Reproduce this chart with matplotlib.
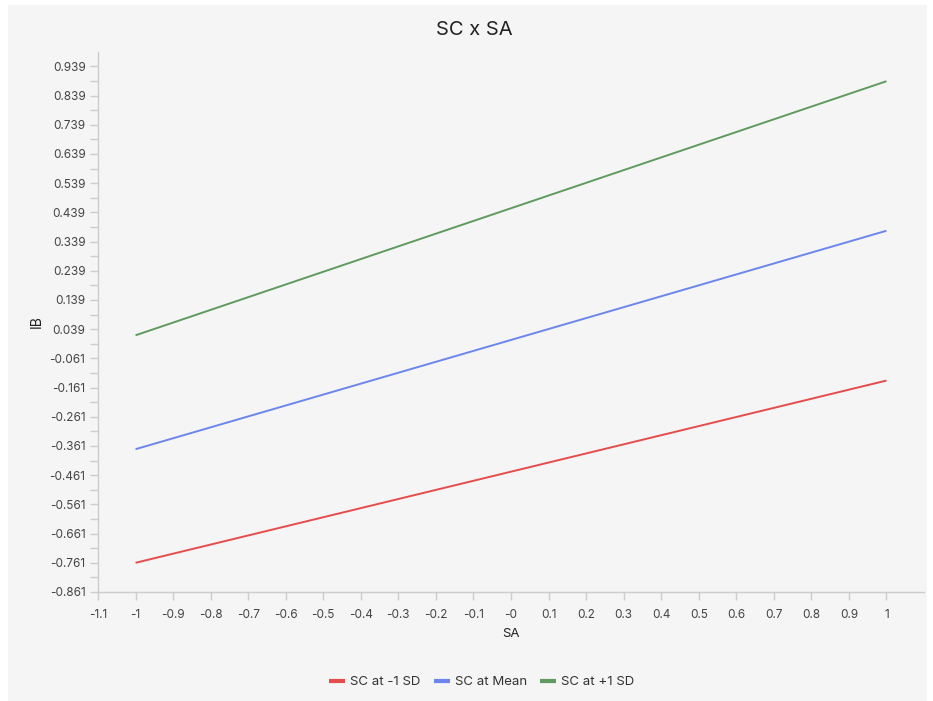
import matplotlib.pyplot as plt
import matplotlib.patches as mpatches
from matplotlib.ticker import MultipleLocator

plt.rcParams['font.family'] = ['Inter', 'DejaVu Sans']

# data
sa = [-1, 1]
low_sd = [-0.761, -0.137]
mean_sc = [-0.372, 0.376]
high_sd = [0.018, 0.888]
series_names = ["SC at -1 SD", "SC at Mean", "SC at +1 SD"]
series_colors = ["#e74c4c", "#6b86ee", "#5f9a5f"]

x_ticks = [-1.1, -1.0, -0.9, -0.8, -0.7, -0.6, -0.5, -0.4, -0.3, -0.2, -0.1,
           0.0, 0.1, 0.2, 0.3, 0.4, 0.5, 0.6, 0.7, 0.8, 0.9, 1.0]
x_labels = ["-1.1", "-1", "-0.9", "-0.8", "-0.7", "-0.6", "-0.5", "-0.4", "-0.3",
            "-0.2", "-0.1", "-0", "0.1", "0.2", "0.3", "0.4", "0.5", "0.6",
            "0.7", "0.8", "0.9", "1"]
y_ticks = [-0.861, -0.761, -0.661, -0.561, -0.461, -0.361, -0.261, -0.161,
           -0.061, 0.039, 0.139, 0.239, 0.339, 0.439, 0.539, 0.639, 0.739,
           0.839, 0.939]
y_labels = [f"{v:.3f}" for v in y_ticks]

W, H = 933, 701
fig = plt.figure(figsize=(W / 100, H / 100), dpi=100, facecolor="white")
bg = mpatches.Rectangle((8 / W, 0), 919 / W, 696 / H, transform=fig.transFigure,
                        facecolor="#f5f5f5", edgecolor="none", zorder=-10)
fig.add_artist(bg)

ax = fig.add_axes([98 / W, (H - 592) / H, (924 - 98) / W, (592 - 52) / H])
ax.set_facecolor("#f5f5f5")

for ys, name, c in zip([low_sd, mean_sc, high_sd], series_names, series_colors):
    ax.plot(sa, ys, color=c, linewidth=1.4, label=name, solid_capstyle="butt")

ax.set_xlim(-1.1, 1.1)
ax.set_ylim(-0.861, 0.988)
ax.set_xticks(x_ticks)
ax.set_xticklabels(x_labels)
ax.set_yticks(y_ticks)
ax.set_yticklabels(y_labels)
ax.yaxis.set_minor_locator(MultipleLocator(0.05, offset=0.039))

for s in ["top", "right"]:
    ax.spines[s].set_visible(False)
for s in ["left", "bottom"]:
    ax.spines[s].set_color("#cccccc")
    ax.spines[s].set_linewidth(1)

ax.tick_params(axis="both", which="both", colors="#cccccc", labelcolor="#444444",
               labelsize=8.5, length=6, width=1)
ax.tick_params(axis="y", pad=3)
ax.tick_params(axis="x", pad=6)

fig.text(474 / W, (H - 30) / H, "SC x SA", fontsize=14.5, color="#222222",
         ha="center", va="center")
ax.set_xlabel("SA", fontsize=9.5, color="#222222", labelpad=5)
ax.set_ylabel("IB", fontsize=10, color="#222222", labelpad=4)

leg = fig.legend(loc="center", bbox_to_anchor=(482 / W, (H - 682) / H), ncol=3,
                 frameon=False, fontsize=9.5, handlelength=1.2, handletextpad=0.4,
                 columnspacing=1.0, labelcolor="#333333")
for line in leg.get_lines():
    line.set_linewidth(3)

fig.savefig("out.png", dpi=100, facecolor="white")
